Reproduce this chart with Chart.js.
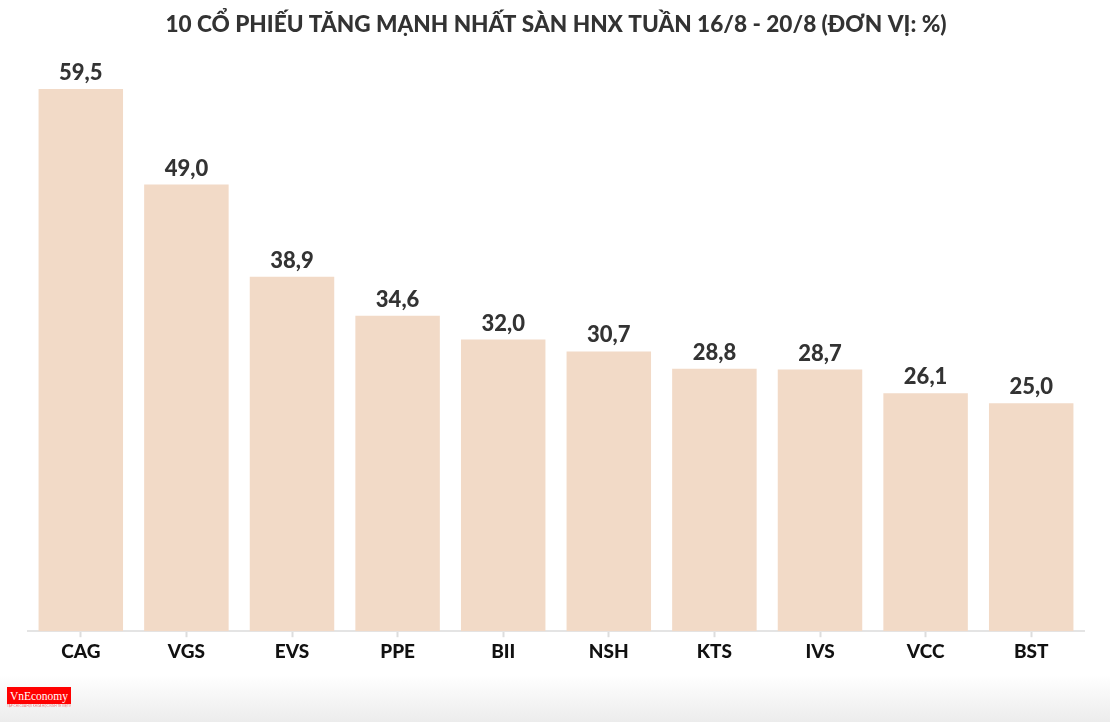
<!DOCTYPE html>
<html>
<head>
<meta charset="utf-8">
<script src="https://cdn.jsdelivr.net/npm/chart.js@4.4.1/dist/chart.umd.min.js"></script>
<style>
  html, body { margin: 0; padding: 0; }
  body {
    width: 1110px;
    height: 722px;
    overflow: hidden;
    background: linear-gradient(to bottom, #ffffff 0px, #ffffff 675px, #ececec 722px);
  }
  #wrap { position: relative; width: 1110px; height: 722px; }
  #logo {
    position: absolute;
    left: 7px;
    top: 687px;
    width: 64px;
    height: 22px;
  }
  #logo .box {
    background: #ff0000;
    color: #fff;
    font-family: "Liberation Serif", serif;
    font-size: 11.5px;
    line-height: 15px;
    height: 17px;
    text-align: center;
    padding-top: 2px;
    box-sizing: border-box;
    white-space: nowrap;
  }
  #logo .sub {
    color: #f07070;
    font-family: "Liberation Sans", sans-serif;
    font-size: 3px;
    line-height: 4px;
    white-space: nowrap;
    overflow: hidden;
  }
</style>
</head>
<body>
<div id="wrap">
  <canvas id="barChart" width="1110" height="722"></canvas>
  <div id="logo">
    <div class="box">VnEconomy</div>
    <div class="sub">TẠP CHÍ CỦA HỘI KHOA HỌC KINH TẾ VIỆT NAM</div>
  </div>
</div>
<script>
// ====================
// Data
// ====================

const stockLabels = ["CAG", "VGS", "EVS", "PPE", "BII", "NSH", "KTS", "IVS", "VCC", "BST"];
const stockGains = [59.5, 49.0, 38.9, 34.6, 32.0, 30.7, 28.8, 28.7, 26.1, 25.0];

const chartTitle = "10 CỔ PHIẾU TĂNG MẠNH NHẤT SÀN HNX TUẦN 16/8 - 20/8 (ĐƠN VỊ: %)";

// ====================
// Value labels above bars
// ====================

const valueLabels = {
  id: "valueLabels",
  afterDatasetsDraw(chart) {
    const ctx = chart.ctx;
    const meta = chart.getDatasetMeta(0);
    ctx.save();
    ctx.font = "900 22px Lato";
    ctx.fillStyle = "#333333";
    ctx.textAlign = "center";
    ctx.textBaseline = "alphabetic";
    meta.data.forEach((bar, i) => {
      const text = stockGains[i].toFixed(1).replace(".", ",");
      ctx.fillText(text, bar.x, bar.y - 9);
    });
    ctx.restore();
  },
};

// ====================
// Bar Chart
// ====================

new Chart(document.getElementById("barChart"), {
  type: "bar",

  data: {
    labels: stockLabels,

    datasets: [
      {
        data: stockGains,
        backgroundColor: "#f2dac7",
        barPercentage: 0.8,
        categoryPercentage: 1.0,
      },
    ],
  },

  options: {
    responsive: false,
    animation: false,

    layout: {
      padding: { left: 28, right: 26, top: 0, bottom: 56 },
    },

    plugins: {
      legend: { display: false },
      tooltip: { enabled: false },
      title: {
        display: true,
        text: chartTitle,
        color: "#333333",
        font: { family: "Lato", size: 22.6, weight: "900" },
        padding: { top: 11, bottom: 28 },
      },
    },

    scales: {
      x: {
        grid: {
          offset: false,
          drawOnChartArea: false,
          drawTicks: true,
          tickLength: 6,
          tickColor: "#dddddd",
          tickWidth: 2,
        },
        border: { color: "#e4e4e4", width: 2 },
        ticks: {
          color: "#111111",
          font: { family: "Lato", size: 19, weight: "900" },
          padding: 3,
        },
      },
      y: {
        display: false,
        min: 0,
        max: 62,
      },
    },
  },

  plugins: [valueLabels],
});
</script>
</body>
</html>
